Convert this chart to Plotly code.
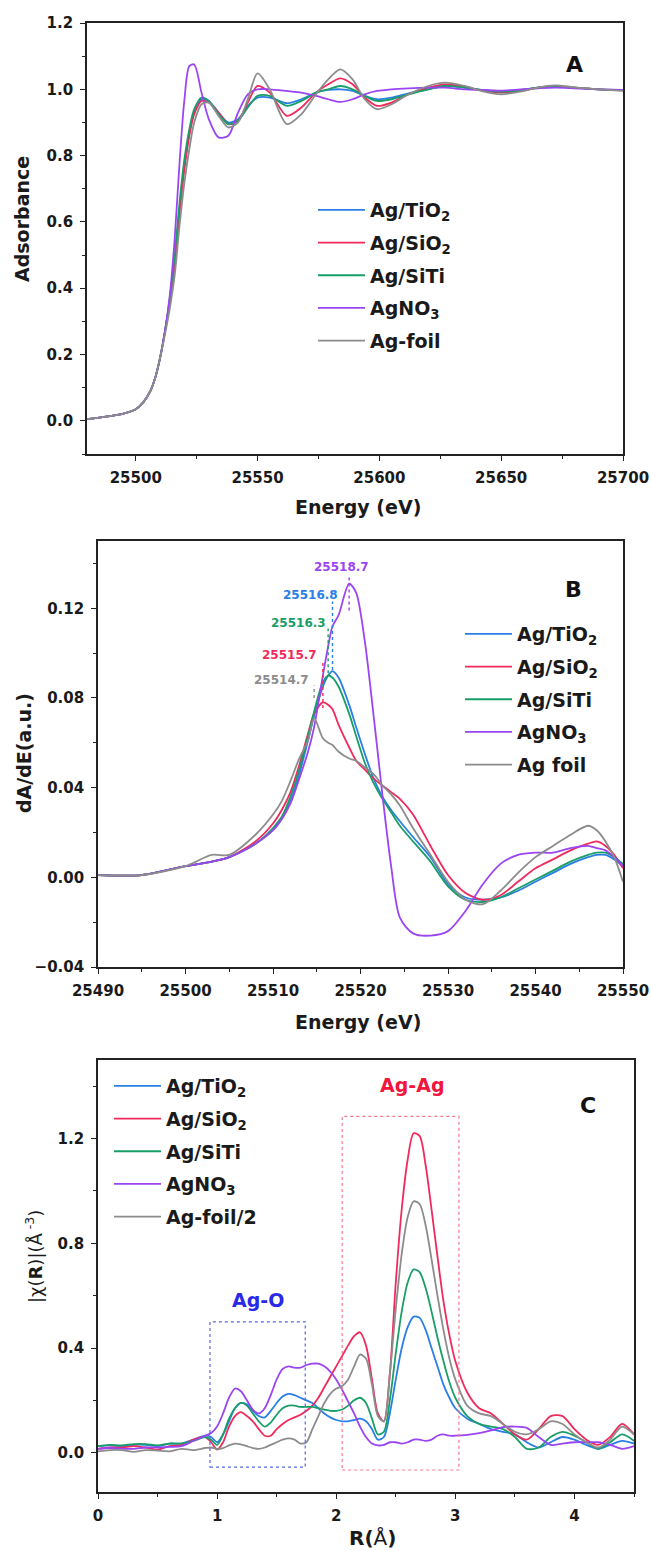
import plotly.graph_objects as go

W, H = 651, 1551
FONT = "DejaVu Sans"

NAMES_A = ["Ag/TiO<sub>2</sub>", "Ag/SiO<sub>2</sub>", "Ag/SiTi", "AgNO<sub>3</sub>", "Ag-foil"]
NAMES_B = ["Ag/TiO<sub>2</sub>", "Ag/SiO<sub>2</sub>", "Ag/SiTi", "AgNO<sub>3</sub>", "Ag foil"]
NAMES_C = ["Ag/TiO<sub>2</sub>", "Ag/SiO<sub>2</sub>", "Ag/SiTi", "AgNO<sub>3</sub>", "Ag-foil/2"]
COLORS = ["#2a7fe6", "#f02a5c", "#1a9e68", "#9b45f2", "#8c8c8c"]

# ---------------- Panel A : XANES ----------------
energy_a = [25480, 25490, 25495, 25500, 25503, 25506, 25508, 25510, 25512, 25514, 25516, 25518,
            25520, 25522, 25524, 25527, 25530, 25534, 25538, 25542, 25546, 25550, 25555, 25562,
            25568, 25574, 25579, 25584, 25589, 25594, 25599, 25605, 25612, 25620, 25627, 25635,
            25643, 25650, 25658, 25665, 25672, 25680, 25690, 25700]
a_tio2 = [0.005, 0.015, 0.022, 0.035, 0.055, 0.09, 0.13, 0.19, 0.27, 0.36, 0.48, 0.64,
          0.77, 0.87, 0.93, 0.97, 0.965, 0.93, 0.90, 0.91, 0.95, 0.975, 0.975, 0.958,
          0.97, 0.99, 0.998, 1.0, 0.995, 0.98, 0.97, 0.975, 0.988, 1.0, 1.01, 1.005,
          0.997, 0.994, 0.998, 1.005, 1.008, 1.005, 1.0, 0.998]
a_sio2 = [0.005, 0.015, 0.022, 0.035, 0.055, 0.09, 0.13, 0.19, 0.27, 0.36, 0.47, 0.63,
          0.76, 0.86, 0.925, 0.965, 0.96, 0.93, 0.895, 0.905, 0.96, 1.01, 0.99, 0.92,
          0.945, 0.99, 1.015, 1.033, 1.015, 0.975, 0.95, 0.96, 0.985, 1.005, 1.015, 1.008,
          0.995, 0.99, 0.995, 1.005, 1.01, 1.005, 1.0, 0.997]
a_siti = [0.005, 0.015, 0.022, 0.035, 0.055, 0.09, 0.13, 0.19, 0.27, 0.37, 0.50, 0.66,
          0.79, 0.88, 0.94, 0.975, 0.965, 0.925, 0.895, 0.905, 0.945, 0.98, 0.98, 0.95,
          0.965, 0.99, 1.0, 1.01, 1.0, 0.98, 0.965, 0.97, 0.985, 1.0, 1.01, 1.005,
          0.997, 0.993, 0.997, 1.005, 1.008, 1.005, 1.0, 0.998]
a_agno3 = [0.005, 0.015, 0.022, 0.035, 0.055, 0.09, 0.13, 0.19, 0.27, 0.38, 0.55, 0.78,
           0.97, 1.07, 1.075, 0.99, 0.91, 0.855, 0.86, 0.93, 0.985, 1.0, 1.0, 0.995,
           0.99, 0.98, 0.97, 0.962, 0.97, 0.985, 0.995, 1.0, 1.003, 1.005, 1.005, 1.0,
           0.998, 0.996, 1.0, 1.003, 1.005, 1.003, 1.0, 0.998]
a_foil = [0.005, 0.015, 0.022, 0.035, 0.055, 0.09, 0.13, 0.19, 0.26, 0.34, 0.44, 0.59,
          0.72, 0.82, 0.90, 0.955, 0.96, 0.92, 0.885, 0.90, 0.97, 1.048, 1.0, 0.895,
          0.925, 0.985, 1.03, 1.06, 1.03, 0.97, 0.94, 0.955, 0.985, 1.01, 1.02, 1.01,
          0.993, 0.985, 0.993, 1.005, 1.012, 1.006, 1.0, 0.995]

# ---------------- Panel B : first derivative ----------------
energy_b = [25490, 25495, 25500, 25503, 25505, 25508, 25510, 25511, 25512, 25513, 25514, 25514.7,
            25515.7, 25516.3, 25516.8, 25517.5, 25518.7, 25519.5, 25520.5, 25521.5, 25522.5,
            25523.5, 25524.5, 25526, 25528, 25530, 25532, 25534, 25536, 25538, 25540, 25542,
            25544, 25546, 25547, 25548, 25549, 25550]
b_tio2 = [0.001, 0.001, 0.005, 0.007, 0.009, 0.015, 0.021, 0.026, 0.034, 0.046, 0.061, 0.072,
          0.085, 0.090, 0.092, 0.089, 0.077, 0.067, 0.055, 0.044, 0.036,
          0.030, 0.025, 0.018, 0.009, -0.003, -0.009, -0.010, -0.009, -0.006, -0.002, 0.002,
          0.006, 0.009, 0.010, 0.010, 0.008, 0.005]
b_sio2 = [0.001, 0.001, 0.005, 0.007, 0.009, 0.016, 0.024, 0.030, 0.038, 0.050, 0.064, 0.073,
          0.078, 0.077, 0.075, 0.068, 0.058, 0.052, 0.048, 0.044, 0.041,
          0.038, 0.035, 0.028, 0.014, 0.001, -0.007, -0.010, -0.008, -0.002, 0.004, 0.008,
          0.012, 0.015, 0.016, 0.014, 0.010, 0.004]
b_siti = [0.001, 0.001, 0.005, 0.007, 0.009, 0.015, 0.022, 0.027, 0.036, 0.048, 0.063, 0.074,
          0.087, 0.090, 0.089, 0.085, 0.073, 0.063, 0.051, 0.042, 0.035,
          0.029, 0.023, 0.016, 0.007, -0.004, -0.010, -0.011, -0.009, -0.005, -0.001, 0.003,
          0.007, 0.010, 0.011, 0.011, 0.009, 0.006]
b_agno3 = [0.001, 0.001, 0.005, 0.007, 0.009, 0.015, 0.021, 0.026, 0.033, 0.044, 0.056, 0.067,
           0.090, 0.103, 0.112, 0.117, 0.131, 0.127, 0.105, 0.072, 0.037,
           0.005, -0.018, -0.025, -0.026, -0.024, -0.015, -0.003, 0.006, 0.010, 0.011, 0.011,
           0.013, 0.014, 0.013, 0.012, 0.009, 0.005]
b_foil = [0.001, 0.001, 0.005, 0.010, 0.010, 0.019, 0.028, 0.034, 0.043, 0.053, 0.061, 0.071,
          0.062, 0.060, 0.059, 0.056, 0.053, 0.052, 0.049, 0.046, 0.041,
          0.037, 0.032, 0.022, 0.010, -0.002, -0.010, -0.012, -0.006, 0.002, 0.009, 0.014,
          0.019, 0.023, 0.021, 0.016, 0.009, -0.002]
# edge positions marked in panel B (order: TiO2, SiO2, SiTi, AgNO3, foil)
edge_positions = [25516.8, 25515.7, 25516.3, 25518.7, 25514.7]
edge_labels = ["25516.8", "25515.7", "25516.3", "25518.7", "25514.7"]

# ---------------- Panel C : FT-EXAFS ----------------
r_c = [0, 0.1, 0.2, 0.3, 0.4, 0.5, 0.6, 0.7, 0.8, 0.9, 0.95, 1.0, 1.05, 1.1, 1.15, 1.2, 1.25, 1.3,
       1.35, 1.4, 1.45, 1.5, 1.55, 1.6, 1.65, 1.7, 1.75, 1.8, 1.85, 1.9, 1.95, 2.0, 2.05, 2.1,
       2.15, 2.2, 2.25, 2.3, 2.35, 2.4, 2.45, 2.5, 2.55, 2.6, 2.65, 2.7, 2.75, 2.8, 2.85, 2.9,
       2.95, 3.0, 3.1, 3.2, 3.3, 3.4, 3.5, 3.6, 3.7, 3.8, 3.9, 4.0, 4.1, 4.2, 4.3, 4.4, 4.5]
c_tio2 = [0.025, 0.028, 0.025, 0.03, 0.03, 0.025, 0.035, 0.035, 0.05, 0.065, 0.06, 0.04, 0.07,
          0.12, 0.17, 0.19, 0.185, 0.16, 0.14, 0.135, 0.16, 0.19, 0.215, 0.225, 0.22, 0.21, 0.20,
          0.19, 0.17, 0.15, 0.135, 0.125, 0.12, 0.12, 0.125, 0.13, 0.12, 0.09, 0.05, 0.06, 0.15,
          0.28, 0.40, 0.48, 0.52, 0.515, 0.47, 0.40, 0.33, 0.26, 0.21, 0.17, 0.13, 0.11, 0.09,
          0.08, 0.07, 0.04, 0.02, 0.04, 0.06, 0.05, 0.03, 0.015, 0.03, 0.045, 0.035]
c_sio2 = [0.015, 0.02, 0.02, 0.025, 0.02, 0.012, 0.025, 0.03, 0.05, 0.06, 0.04, 0.012, 0.04,
          0.10, 0.14, 0.155, 0.14, 0.12, 0.09, 0.065, 0.065, 0.09, 0.11, 0.125, 0.135, 0.145,
          0.16, 0.18, 0.21, 0.25, 0.29, 0.33, 0.37, 0.41, 0.445, 0.46, 0.41, 0.28, 0.15, 0.12,
          0.30, 0.65, 0.93, 1.12, 1.22, 1.21, 1.10, 0.93, 0.75, 0.58, 0.45, 0.35, 0.23, 0.17,
          0.15, 0.11, 0.07, 0.05, 0.09, 0.14, 0.14, 0.09, 0.05, 0.03, 0.06, 0.11, 0.07]
c_siti = [0.025, 0.03, 0.028, 0.033, 0.033, 0.028, 0.035, 0.035, 0.045, 0.06, 0.05, 0.03, 0.07,
          0.13, 0.17, 0.19, 0.18, 0.15, 0.12, 0.10, 0.115, 0.145, 0.17, 0.18, 0.18, 0.175, 0.175,
          0.175, 0.17, 0.165, 0.16, 0.16, 0.165, 0.18, 0.20, 0.21, 0.19, 0.13, 0.07, 0.08, 0.20,
          0.38, 0.54, 0.65, 0.70, 0.69, 0.63, 0.54, 0.44, 0.35, 0.27, 0.21, 0.14, 0.11, 0.10,
          0.09, 0.06, 0.015, 0.02, 0.06, 0.08, 0.065, 0.04, 0.015, 0.04, 0.07, 0.045]
c_agno3 = [0.015, 0.018, 0.015, 0.015, 0.02, 0.02, 0.022, 0.025, 0.045, 0.065, 0.075, 0.10, 0.15,
           0.21, 0.245, 0.235, 0.20, 0.165, 0.15, 0.17, 0.22, 0.28, 0.32, 0.33, 0.325, 0.325,
           0.335, 0.34, 0.34, 0.33, 0.31, 0.28, 0.24, 0.195, 0.15, 0.10, 0.06, 0.035, 0.028, 0.03,
           0.04, 0.04, 0.035, 0.04, 0.05, 0.05, 0.045, 0.05, 0.065, 0.07, 0.065, 0.065, 0.068,
           0.075, 0.085, 0.098, 0.10, 0.095, 0.06, 0.03, 0.035, 0.04, 0.04, 0.04, 0.03, 0.015, 0.025]
c_foil = [0.005, 0.01, 0.01, 0.003, 0.01, 0.008, 0.005, 0.015, 0.01, 0.018, 0.02, 0.015, 0.018,
          0.028, 0.035, 0.032, 0.025, 0.018, 0.015, 0.02, 0.03, 0.04, 0.05, 0.055, 0.05, 0.035,
          0.04, 0.09, 0.14, 0.19, 0.225, 0.245, 0.255, 0.28, 0.33, 0.375, 0.36, 0.26, 0.14, 0.12,
          0.30, 0.55, 0.76, 0.90, 0.96, 0.95, 0.87, 0.74, 0.60, 0.47, 0.36, 0.28, 0.18, 0.15,
          0.14, 0.11, 0.08, 0.07, 0.09, 0.12, 0.11, 0.07, 0.04, 0.02, 0.05, 0.10, 0.07]
ag_o_region = [0.94, 1.74, -0.055, 0.50]
ag_ag_region = [2.05, 3.03, -0.066, 1.285]


def px_x(p):
    return p / W


def px_y(p):
    return 1 - p / H


fig = go.Figure()

panels = [
    (energy_a, [a_tio2, a_sio2, a_siti, a_agno3, a_foil], NAMES_A, "x", "y", "legend"),
    (energy_b, [b_tio2, b_sio2, b_siti, b_agno3, b_foil], NAMES_B, "x2", "y2", "legend2"),
    (r_c, [c_tio2, c_sio2, c_siti, c_agno3, c_foil], NAMES_C, "x3", "y3", "legend3"),
]
for pi, (xs, series, names, xa, ya, lg) in enumerate(panels):
    for i, (ys, nm, col) in enumerate(zip(series, names, COLORS)):
        fig.add_trace(go.Scatter(
            x=xs, y=ys, name=nm, mode="lines",
            line=dict(color=col, width=1.8, shape="spline", smoothing=0.8),
            xaxis=xa, yaxis=ya, legend=lg, legendgroup=f"p{pi}_{i}",
        ))

tickfont = dict(family=FONT, size=15, color="#1a1a1a", weight="bold")


def axis(domain, rng, dtick, tick0, minor_dtick, fmt=None, anchor=None):
    d = dict(domain=domain, range=rng, dtick=dtick, tick0=tick0,
             showline=True, linecolor="#222", linewidth=1.6, mirror=True,
             ticks="outside", ticklen=5, tickwidth=1.4, tickcolor="#222",
             minor=dict(ticks="outside", ticklen=3, tickwidth=1.2, tickcolor="#222",
                        dtick=minor_dtick, tick0=tick0),
             showgrid=False, zeroline=False, tickfont=tickfont, automargin=False,
             ticklabelstandoff=4, ticklabeloverflow="allow", anchor=anchor)
    if fmt:
        d["tickformat"] = fmt
    return d


# pixel boxes of plot areas
A = dict(l=87, r=623, t=23, b=454)
B = dict(l=98, r=623, t=541, b=967)
C = dict(l=98, r=634, t=1060, b=1492)

fig.update_layout(
    width=W, height=H, margin=dict(l=0, r=0, t=0, b=0),
    paper_bgcolor="white", plot_bgcolor="white",
    font=dict(family=FONT, color="#1a1a1a"),
    xaxis=axis([px_x(A["l"]), px_x(A["r"])], [25480, 25700], 50, 25500, 25, "d", anchor="y"),
    yaxis=axis([px_y(A["b"]), px_y(A["t"])], [-0.1, 1.2], 0.2, 0, 0.1, ".1f", anchor="x"),
    xaxis2=axis([px_x(B["l"]), px_x(B["r"])], [25490, 25550], 10, 25490, 5, "d", anchor="y2"),
    yaxis2=axis([px_y(B["b"]), px_y(B["t"])], [-0.04, 0.15], 0.04, -0.04, 0.02, ".2f", anchor="x2"),
    xaxis3=axis([px_x(C["l"]), px_x(C["r"])], [0, 4.5], 1, 0, 0.5, "d", anchor="y3"),
    yaxis3=axis([px_y(C["b"]), px_y(C["t"])], [-0.15, 1.5], 0.4, 0, 0.2, ".1f", anchor="x3"),
)

leg_common = dict(bgcolor="rgba(0,0,0,0)", borderwidth=0, tracegroupgap=5, itemwidth=47,
                  font=dict(family=FONT, size=19, color="#1a1a1a", weight="bold"),
                  xanchor="left", yanchor="top")
fig.update_layout(
    legend=dict(x=px_x(313), y=px_y(191), **leg_common),
    legend2=dict(x=px_x(460), y=px_y(615), **leg_common),
    legend3=dict(x=px_x(109), y=px_y(1067), **leg_common),
)

ann = []
title_font = dict(family=FONT, size=19, color="#1a1a1a", weight="bold")
# axis titles
ann += [
    dict(text="Energy (eV)", x=px_x(358), y=px_y(507), showarrow=False, font=title_font),
    dict(text="Adsorbance", x=px_x(22), y=px_y(219), textangle=-90, showarrow=False, font=title_font),
    dict(text="Energy (eV)", x=px_x(358), y=px_y(1022), showarrow=False, font=title_font),
    dict(text="dA/dE(a.u.)", x=px_x(24), y=px_y(753), textangle=-90, showarrow=False, font=title_font),
    dict(text="<b>R(</b>Å<b>)</b>", x=px_x(372), y=px_y(1538), showarrow=False,
         font=dict(family=FONT, size=20, color="#1a1a1a")),
    dict(text="|χ(<b>R</b>)|(Å<sup> -3</sup>)", x=px_x(34), y=px_y(1257), textangle=-90, showarrow=False,
         font=dict(family=FONT, size=18, color="#1a1a1a")),
]
for i, p in enumerate(ann):
    p.update(xref="paper", yref="paper", xanchor="center", yanchor="middle")

letter_font = dict(family=FONT, size=22, color="#111", weight="bold")
ann += [
    dict(text="A", xref="x domain", yref="y domain", x=0.93, y=0.937, showarrow=False, font=letter_font),
    dict(text="B", xref="x2 domain", yref="y2 domain", x=0.925, y=0.92, showarrow=False, font=letter_font),
    dict(text="C", xref="x3 domain", yref="y3 domain", x=0.933, y=0.928, showarrow=False, font=letter_font),
]

# panel B edge labels: (label x, label y, line top, line bottom) per series index
lab_font = 12
label_pos = {3: (25517.8, 0.1385, 0.135, 0.119),
             0: (25514.3, 0.1259, 0.123, 0.0925),
             2: (25512.9, 0.1133, 0.111, 0.091),
             1: (25511.9, 0.0990, 0.096, 0.0755),
             4: (25511.0, 0.0879, 0.0855, 0.0800)}
shapes = []
for i, (lx, ly, ytop, ybot) in label_pos.items():
    ann.append(dict(text=edge_labels[i], x=lx, y=ly, xref="x2", yref="y2", showarrow=False,
                    font=dict(family=FONT, size=lab_font, color=COLORS[i], weight="bold")))
    shapes.append(dict(type="line", xref="x2", yref="y2", x0=edge_positions[i], x1=edge_positions[i],
                       y0=ybot, y1=ytop, line=dict(color=COLORS[i], width=1.4, dash="dot")))

# panel C regions
shapes.append(dict(type="rect", xref="x3", yref="y3", x0=ag_o_region[0], x1=ag_o_region[1],
                   y0=ag_o_region[2], y1=ag_o_region[3], line=dict(color="#5a64e0", width=1.2, dash="dot")))
shapes.append(dict(type="rect", xref="x3", yref="y3", x0=ag_ag_region[0], x1=ag_ag_region[1],
                   y0=ag_ag_region[2], y1=ag_ag_region[3], line=dict(color="#f27a90", width=1.2, dash="dot")))
ann.append(dict(text="Ag-O", x=(ag_o_region[0] + ag_o_region[1]) / 2, y=0.585, xref="x3", yref="y3",
                showarrow=False, font=dict(family=FONT, size=19, color="#2a2ae6", weight="bold")))
ann.append(dict(text="Ag-Ag", x=(ag_ag_region[0] + ag_ag_region[1]) / 2 + 0.1, y=1.405, xref="x3", yref="y3",
                showarrow=False, font=dict(family=FONT, size=19, color="#f0163c", weight="bold")))

fig.update_layout(annotations=ann, shapes=shapes)
fig.write_html("out.html")
